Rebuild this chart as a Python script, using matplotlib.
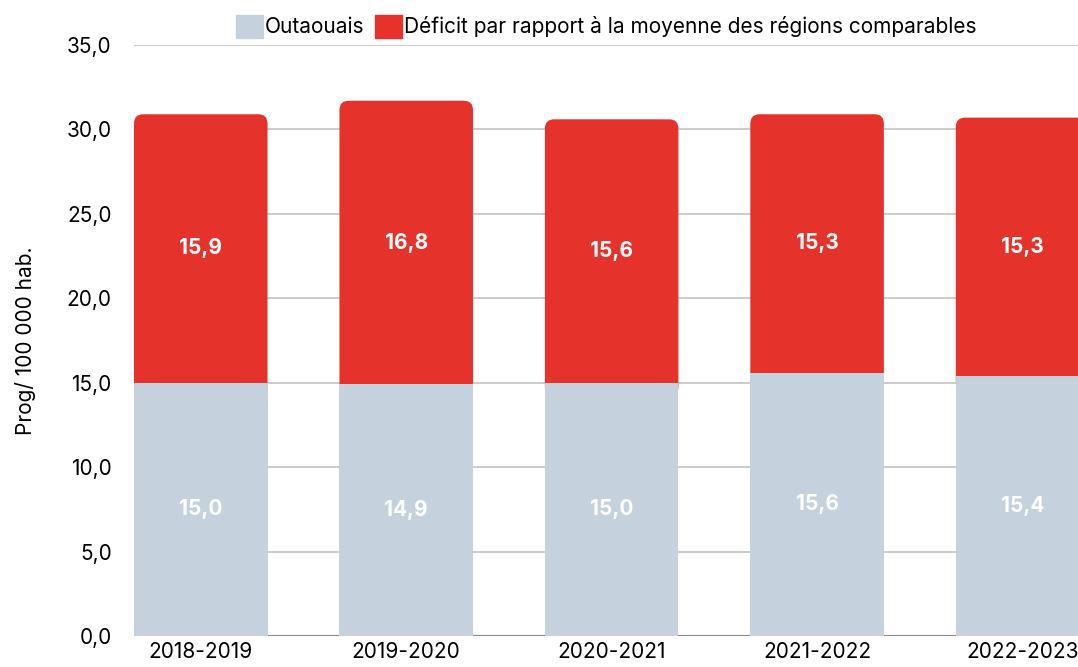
import numpy as np
import matplotlib.pyplot as plt
from matplotlib.patches import FancyBboxPatch, Patch

plt.rcParams['font.family'] = ['Inter', 'DejaVu Sans']

periodes = ['2018-2019', '2019-2020', '2020-2021', '2021-2022', '2022-2023']
outaouais = [15.0, 14.9, 15.0, 15.6, 15.4]
deficit = [15.9, 16.8, 15.6, 15.3, 15.3]

gris = '#C5D2DE'
rouge = '#E5322A'

fig = plt.figure(figsize=(10.78, 6.67), dpi=100)
ax = fig.add_axes([0.1243, 0.0465, 0.8757, 0.886])
ax.set_axisbelow(True)

x = np.arange(len(periodes))
w = 0.65
ax.set_xlim(-0.325, 4.27)
ax.set_ylim(0, 35)

# aspect correction so the rounded corners stay round
px_x = 0.8757 * 1078 / (4.27 + 0.325)
px_y = 0.886 * 667 / 35
aspect = px_x / px_y

ax.bar(x, outaouais, w, color=gris, zorder=3)
for i in range(len(x)):
    base = outaouais[i] - 0.8  # rounded bottom hidden under the grey bar
    top = outaouais[i] + deficit[i]
    box = FancyBboxPatch((x[i] - w / 2, base), w, top - base,
                         boxstyle='round,pad=0,rounding_size=0.045',
                         mutation_aspect=aspect, fc=rouge, ec='none', zorder=2)
    ax.add_patch(box)

for i in range(len(x)):
    ax.text(x[i], outaouais[i] / 2, f'{outaouais[i]:.1f}'.replace('.', ','),
            ha='center', va='center', color='white', fontsize=15, fontweight='bold', zorder=4)
    ax.text(x[i], outaouais[i] + deficit[i] / 2, f'{deficit[i]:.1f}'.replace('.', ','),
            ha='center', va='center', color='white', fontsize=15, fontweight='bold', zorder=4)

yt = np.arange(0, 36, 5)
ax.set_yticks(yt)
ax.set_yticklabels([f'{v:.1f}'.replace('.', ',') for v in yt], fontsize=15)
ax.yaxis.grid(True, color='#c4c4c4', lw=1.2)
ax.axhline(0, color='#8a8a8a', lw=1.5, zorder=1)
ax.set_xticks(x)
ax.set_xticklabels(periodes, fontsize=15)
ax.tick_params(axis='y', length=0, pad=16)
ax.tick_params(axis='x', length=0, pad=4)
for s in ax.spines.values():
    s.set_visible(False)
ax.set_ylabel('Prog/ 100 000 hab.', fontsize=15, labelpad=22)

handles = [Patch(color=gris), Patch(color=rouge)]
ax.legend(handles, ['Outaouais', 'Déficit par rapport à la moyenne des régions comparables'],
          loc='lower center', bbox_to_anchor=(0.5, 0.995), ncol=2, frameon=False,
          fontsize=15, handlelength=1.3, handleheight=1.3, handletextpad=0.1,
          columnspacing=0.5, borderpad=0)

fig.savefig('out.png')
